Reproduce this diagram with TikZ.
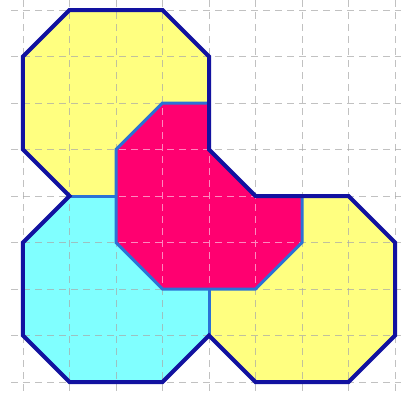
\documentclass[tikz,border=0pt]{standalone}
\definecolor{yel}{HTML}{FFFF80}
\definecolor{cya}{HTML}{80FFFF}
\definecolor{pnk}{HTML}{FF0070}
\definecolor{pnkgrid}{HTML}{FF88C0}
\definecolor{navyb}{HTML}{1212A0}
\definecolor{midb}{HTML}{2A72D6}
\definecolor{gridc}{HTML}{A8A8A8}
\tikzset{
  gridline/.style={gridc, line width=0.9pt, dash pattern=on 7pt off 5pt, opacity=0.7},
  pgridline/.style={pnkgrid, line width=0.9pt, dash pattern=on 7pt off 5pt},
  outerline/.style={navyb, line width=4pt, line join=miter},
  innerline/.style={midb, line width=3pt, line join=miter},
}
\begin{document}
\begin{tikzpicture}[x=46.5pt, y=-46.5pt]
\useasboundingbox[fill=white] (-0.4946,-0.2151) rectangle (8.129,8.258);
% fills
\fill[yel] (1,0)--(3,0)--(4,1)--(4,3)--(3,4)--(1,4)--(0,3)--(0,1)--cycle;
\fill[cya] (1,4)--(3,4)--(4,5)--(4,7)--(3,8)--(1,8)--(0,7)--(0,5)--cycle;
\fill[yel] (5,4)--(7,4)--(8,5)--(8,7)--(7,8)--(5,8)--(4,7)--(4,5)--cycle;
\fill[pnk] (3,2)--(4,2)--(4,3)--(5,4)--(6,4)--(6,5)--(5,6)--(3,6)--(2,5)--(2,3)--cycle;
% grid
\foreach \i in {0,...,8} {
  \draw[gridline] (\i,-0.2151) -- (\i,8.258);
  \draw[gridline] (-0.25,\i) -- (8.129,\i);
}
\begin{scope}
\clip (3,2)--(4,2)--(4,3)--(5,4)--(6,4)--(6,5)--(5,6)--(3,6)--(2,5)--(2,3)--cycle;
\foreach \i in {0,...,8} {
  \draw[pgridline] (\i,-0.2151) -- (\i,8.258);
  \draw[pgridline] (-0.25,\i) -- (8.129,\i);
}
\end{scope}
% inner boundaries
\draw[innerline] (4,2)--(3,2)--(2,3)--(2,5)--(3,6)--(5,6)--(6,5)--(6,4);
\draw[innerline] (1,4)--(2,4);
\draw[innerline] (4,6)--(4,7);
% outer boundary
\draw[outerline] (1,0)--(3,0)--(4,1)--(4,3)--(5,4)--(7,4)--(8,5)--(8,7)--(7,8)--(5,8)--(4,7)--(3,8)--(1,8)--(0,7)--(0,5)--(1,4)--(0,3)--(0,1)--cycle;
\end{tikzpicture}
\end{document}
